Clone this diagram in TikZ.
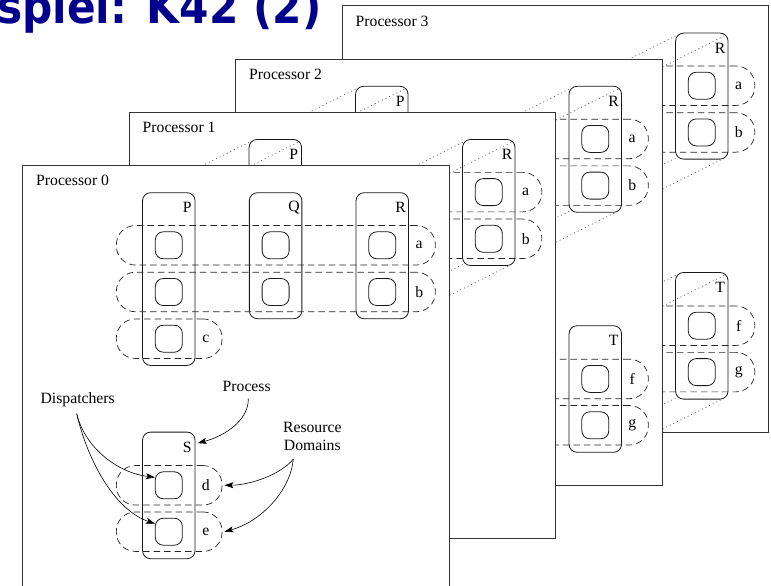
\documentclass[tikz,border=0pt]{standalone}
\usepackage{fontspec}
\setmainfont{Liberation Serif}
\newfontfamily\titlefont{DejaVu Sans}[FakeStretch=0.9]
\usetikzlibrary{arrows.meta}
\definecolor{titleblue}{RGB}{0,0,140}
\pgfdeclarelayer{l3}\pgfdeclarelayer{k23}\pgfdeclarelayer{l2}\pgfdeclarelayer{k12}
\pgfdeclarelayer{l1}\pgfdeclarelayer{k01}\pgfdeclarelayer{l0}
\pgfsetlayers{l3,k23,l2,k12,l1,k01,l0,main}
\tikzset{
  frame/.style={draw=black!80, line width=0.9pt, fill=white, inner sep=0pt,
    minimum width=426.5pt, minimum height=426.5pt, anchor=north west},
  pbox/.style={draw=black!90, line width=0.8pt, rounded corners=8pt, inner sep=0pt,
    minimum width=52.5pt, anchor=north},
  disp/.style={draw=black!90, line width=0.8pt, rounded corners=8pt, inner sep=0pt,
    minimum width=27pt, minimum height=27pt},
  dom/.style={draw=black!85, line width=0.7pt, dash pattern=on 6.5pt off 4pt,
    rounded corners=19pt, inner sep=0pt, minimum height=39.5pt, anchor=west},
  lbl/.style={font=\fontsize{15.7}{17.5}\selectfont, inner sep=0pt},
  link/.style={draw=black!65, line width=0.7pt, dash pattern=on 1pt off 3pt},
  arr/.style={-{Stealth[length=9pt,width=6pt,inset=2pt]}, line width=0.6pt},
}
% frame of processor #1
\newcommand\mkframe[1]{%
  \node[frame] (F#1) at (0,0) {};
  \node[lbl, anchor=west] (FL#1) at (14,15.7) {Processor #1};}
% process box: #1 proc, #2 name, #3 centre x, #4 top y, #5 height
\newcommand\mkprocess[5]{%
  \node[pbox, minimum height=#5pt] (n#1#2) at (#3,#4) {};
  \node[lbl] (n#1#2l) at ([shift={(-8.3,15.4)}]n#1#2.north east) {#2};}
% resource domain: #1 proc, #2 name, #3 left x, #4 right x, #5 centre y
\newcommand\mkdom[5]{%
  \node[dom, minimum width=#4pt-#3pt] (d#1#2) at (#3,#5) {};
  \node[lbl] (d#1#2l) at ([xshift=-16.5pt]d#1#2.east) {#2};}
% dispatcher: #1 proc, #2 name, #3 x, #4 y
\newcommand\mkdisp[4]{\node[disp] (s#1#2) at (#3,#4) {};}
% dotted links between the same process on two processors
\newcommand\mklink[3]{%
  \draw[link] ([shift={(2.3,2.3)}]n#1#3.north west) -- ([shift={(2.3,2.3)}]n#2#3.north west);
  \draw[link] ([shift={(-2.3,2.3)}]n#1#3.north east) -- ([shift={(-2.3,2.3)}]n#2#3.north east);
  \draw[link] ([shift={(2.3,-2.3)}]n#1#3.south west) -- ([shift={(2.3,-2.3)}]n#2#3.south west);
  \draw[link] ([shift={(-2.3,-2.3)}]n#1#3.south east) -- ([shift={(-2.3,-2.3)}]n#2#3.south east);}

\begin{document}
\begin{tikzpicture}[x=1pt,y=-1pt]
\useasboundingbox (0,0) rectangle (771,586);

% ---------------- Processor 3
\begin{pgfonlayer}{l3}
\begin{scope}[shift={(341.5,5.4)}]
  \mkframe{3}
  \mkprocess{3}{R}{360.3}{27.3}{126}
  \mkprocess{3}{T}{360.3}{266.7}{126.6}
  \mkdom{3}{a}{94}{413}{80.3}
  \mkdom{3}{b}{94}{413}{127}
  \mkdom{3}{f}{94}{413}{320.3}
  \mkdom{3}{g}{94}{413}{366.7}
  \mkdisp{3}{Ra}{360.3}{80.3}
  \mkdisp{3}{Rb}{360.3}{127}
  \mkdisp{3}{Tf}{360.3}{320.3}
  \mkdisp{3}{Tg}{360.3}{366.7}
\end{scope}
\end{pgfonlayer}

% ---------------- Processor 2
\begin{pgfonlayer}{l2}
\begin{scope}[shift={(235,58.6)}]
  \mkframe{2}
  \mkprocess{2}{P}{146.8}{27.3}{126}
  \mkprocess{2}{R}{360.3}{27.3}{126}
  \mkprocess{2}{T}{360.3}{266.7}{126.6}
  \mkdom{2}{a}{94}{413}{80.3}
  \mkdom{2}{b}{94}{413}{127}
  \mkdom{2}{f}{94}{413}{320.3}
  \mkdom{2}{g}{94}{413}{366.7}
  \mkdisp{2}{Pa}{146.8}{80.3}
  \mkdisp{2}{Pb}{146.8}{127}
  \mkdisp{2}{Ra}{360.3}{80.3}
  \mkdisp{2}{Rb}{360.3}{127}
  \mkdisp{2}{Tf}{360.3}{320.3}
  \mkdisp{2}{Tg}{360.3}{366.7}
\end{scope}
\end{pgfonlayer}

\begin{pgfonlayer}{k23}
  \mklink{2}{3}{R}
  \mklink{2}{3}{T}
\end{pgfonlayer}

% ---------------- Processor 1
\begin{pgfonlayer}{l1}
\begin{scope}[shift={(128.5,111.8)}]
  \mkframe{1}
  \mkprocess{1}{P}{146.8}{27.3}{126}
  \mkprocess{1}{R}{360.3}{27.3}{126}
  \mkdom{1}{a}{94}{413}{80.3}
  \mkdom{1}{b}{94}{413}{127}
  \mkdisp{1}{Pa}{146.8}{80.3}
  \mkdisp{1}{Pb}{146.8}{127}
  \mkdisp{1}{Ra}{360.3}{80.3}
  \mkdisp{1}{Rb}{360.3}{127}
\end{scope}
\end{pgfonlayer}

\begin{pgfonlayer}{k12}
  \mklink{1}{2}{P}
  \mklink{1}{2}{R}
\end{pgfonlayer}

% ---------------- Processor 0
\begin{pgfonlayer}{l0}
\begin{scope}[shift={(22,165)}]
  \mkframe{0}
  \mkprocess{0}{P}{146.8}{27.3}{172.7}
  \mkprocess{0}{Q}{253.6}{27.3}{126}
  \mkprocess{0}{R}{360.3}{27.3}{126}
  \mkprocess{0}{S}{146.8}{266.7}{126.6}
  \mkdom{0}{a}{94}{413}{80.3}
  \mkdom{0}{b}{94}{413}{127}
  \mkdom{0}{c}{94}{199.7}{173.7}
  \mkdom{0}{d}{94}{199.7}{320.3}
  \mkdom{0}{e}{94}{199.7}{366.7}
  \mkdisp{0}{Pa}{146.8}{80.3}
  \mkdisp{0}{Pb}{146.8}{127}
  \mkdisp{0}{Pc}{146.8}{173.7}
  \mkdisp{0}{Qa}{253.6}{80.3}
  \mkdisp{0}{Qb}{253.6}{127}
  \mkdisp{0}{Ra}{360.3}{80.3}
  \mkdisp{0}{Rb}{360.3}{127}
  \mkdisp{0}{Sd}{146.8}{320.3}
  \mkdisp{0}{Se}{146.8}{366.7}
\end{scope}
\end{pgfonlayer}

\begin{pgfonlayer}{k01}
  \mklink{0}{1}{P}
  \mklink{0}{1}{R}
\end{pgfonlayer}

% ---------------- annotations
\node[lbl] (tDisp) at (77.7,400) {Dispatchers};
\node[lbl] (tProc) at (246.7,386.7) {Process};
\node[lbl, align=center] (tRes) at (312.3,436.3) {Resource\\Domains};

\draw[arr] ([shift={(1.6,6.4)}]tProc.south) .. controls (249,420) and (225,436) .. ([shift={(6,-4)}]n0Sl.east);
\draw[arr] ([shift={(-1,6.4)}]tDisp.south) .. controls (85,448) and (118,473) .. (s0Sd.150);
\draw[arr] ([shift={(-1,6.4)}]tDisp.south) .. controls (88,462) and (115,510) .. (s0Se.150);
\draw[arr] ([shift={(-19,8.7)}]tRes.south) .. controls (280,475) and (250,485) .. ([xshift=2pt]d0d.east);
\draw[arr] ([shift={(-19,8.7)}]tRes.south) .. controls (290,492) and (260,522) .. ([xshift=2pt]d0e.east);

% ---------------- title
\node[font=\titlefont\bfseries\fontsize{47}{55}\selectfont, text=titleblue,
  anchor=base west, inner sep=0pt] (title) at (-3,24) {spiel: K42 (2)};
\end{tikzpicture}
\end{document}
